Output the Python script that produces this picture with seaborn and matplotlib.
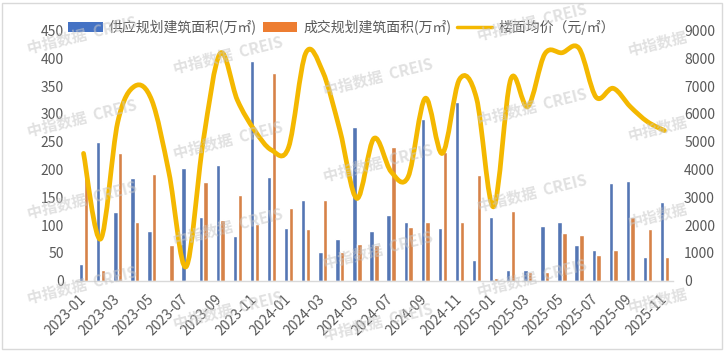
import numpy as np
import pandas as pd
import matplotlib
matplotlib.use('Agg')
import matplotlib.pyplot as plt
import seaborn as sns
from matplotlib.path import Path
from matplotlib.patches import PathPatch, Patch, Rectangle
from matplotlib.lines import Line2D

# months 2023-01 .. 2025-11
months = [f'{y}-{m:02d}' for y in (2023, 2024, 2025) for m in range(1, 13)][:35]

supply = [30, 249, 124, 185, 89, 0, 203, 115, 208, 80, 395, 187,
          95, 145, 52, 75, 277, 89, 118, 106, 291, 95, 321, 37,
          115, 20, 20, 98, 106, 64, 55, 176, 179, 43, 142]
deal = [190, 19, 230, 105, 192, 64, 1, 178, 109, 154, 102, 374,
        131, 93, 145, 52, 66, 64, 240, 96, 105, 231, 105, 190,
        5, 125, 16, 16, 86, 82, 46, 55, 115, 93, 43]
price = [4580, 1500, 5700, 7000, 6480, 3880, 500, 5000, 8180, 6500, 5420, 4700,
         4800, 8180, 7520, 5420, 2960, 5120, 3920, 3740, 6560, 4580, 7240, 6560,
         2660, 7240, 6260, 8160, 8200, 8360, 6600, 6920, 6260, 5720, 5400]

supply_name = '供应规划建筑面积(万㎡)'
deal_name = '成交规划建筑面积(万㎡)'
price_name = '楼面均价（元/㎡）'

blue = '#4472C4'
orange = '#ED7D31'
gold = '#F4B800'
grey_txt = '#595959'

df = pd.DataFrame({
    'month': months * 2,
    'series': [supply_name] * len(months) + [deal_name] * len(months),
    'value': supply + deal,
})

sns.set_style('white')
plt.rcParams['font.family'] = ['Noto Sans CJK SC', 'DejaVu Sans']

W, H = 725, 353
fig = plt.figure(figsize=(W / 100, H / 100), dpi=100)
ax = fig.add_axes([75 / W, 1 - 280.7 / H, (673 - 75) / W, (280.7 - 30.5) / H])

sns.barplot(data=df, x='month', y='value', hue='series', order=months,
            hue_order=[supply_name, deal_name],
            palette={supply_name: blue, deal_name: orange},
            width=0.56, gap=0.08, legend=False, ax=ax, zorder=2)
ax.set_xlim(-0.5, len(months) - 0.5)
ax.set_ylim(0, 450)
ax.set_yticks(range(0, 451, 50))
ax.set_xticks(range(0, len(months), 2))
ax.set_xticklabels(months[::2], rotation=45, ha='right', va='center',
                   rotation_mode='anchor')
ax.set_xlabel('')
ax.set_ylabel('')
ax.tick_params(axis='y', length=0, pad=8, labelsize=10, labelcolor=grey_txt)
ax.tick_params(axis='x', length=0, pad=12, labelsize=10, labelcolor=grey_txt)
for s in ['top', 'left', 'right']:
    ax.spines[s].set_visible(False)
ax.spines['bottom'].set_color('#D9D9D9')
ax.spines['bottom'].set_linewidth(1)
ax.set_facecolor('none')

# price line on secondary axis, smoothed like excel (catmull-rom bezier)
ax2 = ax.twinx()
ax2.set_ylim(0, 9000)
ax2.set_yticks(range(0, 9001, 1000))
ax2.tick_params(axis='y', length=0, pad=8, labelsize=10, labelcolor=grey_txt)
for s in ['top', 'left', 'right', 'bottom']:
    ax2.spines[s].set_visible(False)

xs = np.arange(len(price), dtype=float)
ys = np.array(price, dtype=float)
n = len(xs)
verts = [(xs[0], ys[0])]
codes = [Path.MOVETO]
for i in range(n - 1):
    a = max(i - 1, 0)
    b = min(i + 2, n - 1)
    c1 = (xs[i] + (xs[i + 1] - xs[a]) / 6, ys[i] + (ys[i + 1] - ys[a]) / 6)
    c2 = (xs[i + 1] - (xs[b] - xs[i]) / 6, ys[i + 1] - (ys[b] - ys[i]) / 6)
    verts += [c1, c2, (xs[i + 1], ys[i + 1])]
    codes += [Path.CURVE4] * 3
ax2.add_patch(PathPatch(Path(verts, codes), facecolor='none', edgecolor=gold,
                        lw=3.4, capstyle='round', joinstyle='round', zorder=3))

handles = [Patch(facecolor=blue, edgecolor='none'),
           Patch(facecolor=orange, edgecolor='none'),
           Line2D([0], [0], color=gold, lw=2.5)]
fig.legend(handles, [supply_name, deal_name, price_name], loc='center',
           bbox_to_anchor=(0.471, 1 - 27 / H), ncol=3, frameon=False,
           fontsize=10, handlelength=2.5, handleheight=0.7, handletextpad=0.45,
           columnspacing=0.4, labelcolor=grey_txt, borderaxespad=0)

# watermark
marks = [(82, 35), (82, 118), (82, 200), (82, 285),
         (228, 55), (228, 140), (228, 227), (228, 310),
         (378, 77), (378, 163), (378, 250), (378, 322),
         (532, 22), (532, 107), (532, 193), (532, 278)]
for mx, my in marks:
    fig.text(mx / W, 1 - my / H, '中指数据  CREIS', rotation=14, ha='center',
             va='center', fontsize=11, fontweight='bold', color='#C8C8C8',
             alpha=0.55, zorder=10)
# right column only shows the chinese part
for my in (43, 128, 215, 300):
    fig.text(658 / W, 1 - my / H, '中指数据', rotation=14, ha='center',
             va='center', fontsize=11, fontweight='bold', color='#C8C8C8',
             alpha=0.55, zorder=10)

fig.add_artist(Rectangle((2 / W, 4 / H), 720 / W, 346 / H, transform=fig.transFigure,
                         fill=False, edgecolor='#D9D9D9', lw=1))

fig.savefig('out.png', dpi=100)
